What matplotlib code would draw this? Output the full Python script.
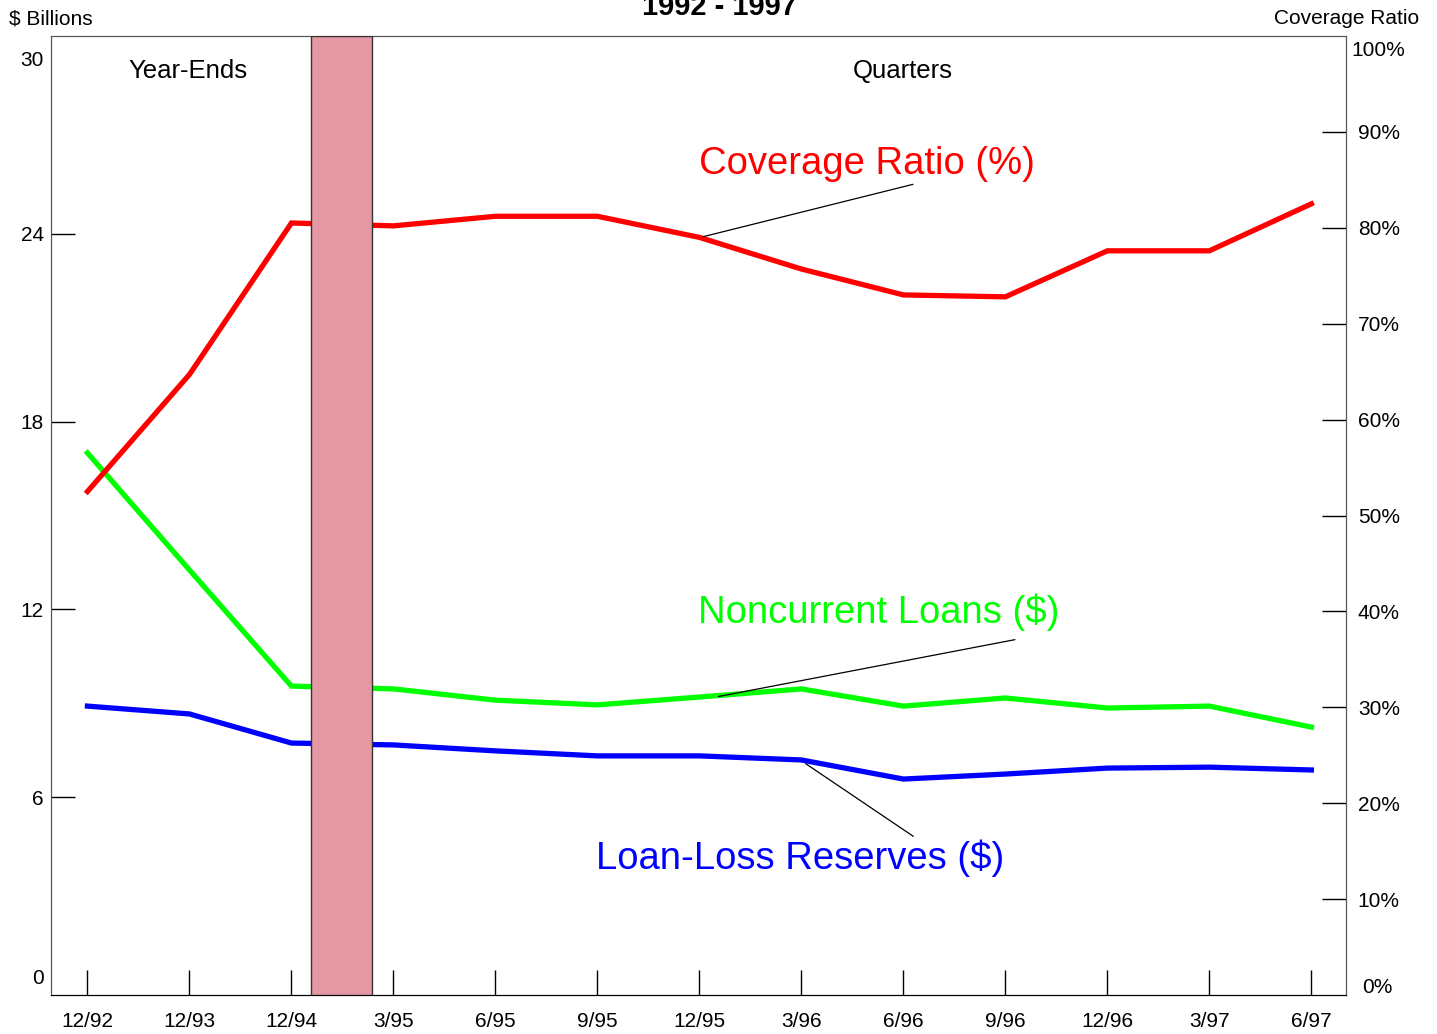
import numpy as np
import matplotlib.pyplot as plt

plt.rcParams['font.family'] = ['Liberation Sans', 'DejaVu Sans']

# Data
periods = ['12/92', '12/93', '12/94', '3/95', '6/95', '9/95', '12/95',
           '3/96', '6/96', '9/96', '12/96', '3/97', '6/97']
coverage = [52.5, 64.7, 80.5, 80.2, 81.2, 81.2, 79.0, 75.7, 73.0, 72.8, 77.6, 77.6, 82.5]
noncurrent = [17.0, 13.26, 9.55, 9.46, 9.1, 8.95, 9.2, 9.46, 8.91, 9.17, 8.85, 8.91, 8.24]
reserves = [8.91, 8.66, 7.73, 7.67, 7.48, 7.32, 7.32, 7.19, 6.58, 6.74, 6.93, 6.96, 6.87]
left_ticks = [6, 12, 18, 24]
right_ticks = [10, 20, 30, 40, 50, 60, 70, 80, 90]

x = np.arange(len(periods))

#Plot
fig = plt.figure(figsize=(14.37, 10.34), dpi=100)
ax = fig.add_axes([0.0353, 0.0377, 0.9014, 0.9275])
ax2 = ax.twinx()

ax.plot(x, noncurrent, color='#00ff00', lw=3.8, solid_joinstyle='miter')
ax.plot(x, reserves, color='#0000ff', lw=3.8, solid_joinstyle='miter')
ax2.plot(x, coverage, color='#ff0000', lw=3.8, solid_joinstyle='miter')

# shaded gap between year-ends and quarters
ax2.axvspan(2.196, 2.794, facecolor='#e498a4', edgecolor='#333333', lw=1, zorder=5)

ax.set_xlim(-0.36, 12.34)
ax.set_ylim(-0.32, 30.32)
ax2.set_ylim(0, 100)

ax.set_xticks(x)
ax.set_xticklabels(periods, fontsize=15)
ax.set_yticks(left_ticks)
ax.set_yticklabels([str(v) for v in left_ticks], fontsize=15)
ax2.set_yticks(right_ticks)
ax2.set_yticklabels(['%d%%' % v for v in right_ticks], fontsize=15)
ax.tick_params(axis='x', direction='in', length=18, width=1, pad=12)
ax.tick_params(axis='y', direction='in', length=17, width=1, pad=5)
ax2.tick_params(axis='y', direction='in', length=17, width=1, pad=8.5)

# end labels without tick marks
ly = ax.get_yaxis_transform()
ry = ax2.get_yaxis_transform()
ax.text(-0.0055, 29.55, '30', transform=ly, fontsize=15, ha='right', va='center')
ax.text(-0.0055, 0.22, '0', transform=ly, fontsize=15, ha='right', va='center')
ax2.text(1.0045, 98.5, '100%', transform=ry, fontsize=15, ha='left', va='center')
ax2.text(1.0125, 0.83, '0%', transform=ry, fontsize=15, ha='left', va='center')

for sp in ['left', 'right', 'top']:
    ax.spines[sp].set_color('#555555')
    ax2.spines[sp].set_color('#555555')

# texts
fig.text(0.0355, 0.982, '$ Billions', fontsize=15, ha='center', va='center')
fig.text(0.937, 0.982, 'Coverage Ratio', fontsize=15, ha='center', va='center')
fig.text(0.501, 1 - 15 / 1034, '1992 - 1997', fontsize=21, fontweight='bold',
         ha='center', va='baseline')
ax.text(0.99, 29.2, 'Year-Ends', fontsize=18.5, ha='center', va='center')
ax.text(7.99, 29.2, 'Quarters', fontsize=18.5, ha='center', va='center')

ax2.text(7.64, 86.7, 'Coverage Ratio (%)', color='#ff0000', fontsize=27.5,
         ha='center', va='center')
ax2.annotate('', xy=(6.01, 79.0), xytext=(8.12, 84.6),
             arrowprops=dict(arrowstyle='-', lw=0.9, color='black'))
ax2.text(7.76, 39.9, 'Noncurrent Loans ($)', color='#00ff00', fontsize=27.5,
         ha='center', va='center')
ax.annotate('', xy=(6.16, 9.2), xytext=(9.12, 11.05),
            arrowprops=dict(arrowstyle='-', lw=0.9, color='black'))
ax2.text(6.99, 14.3, 'Loan-Loss Reserves ($)', color='#0000ff', fontsize=27.5,
         ha='center', va='center')
ax.annotate('', xy=(7.02, 7.12), xytext=(8.12, 4.7),
            arrowprops=dict(arrowstyle='-', lw=0.9, color='black'))

plt.savefig('out.png', dpi=100)
